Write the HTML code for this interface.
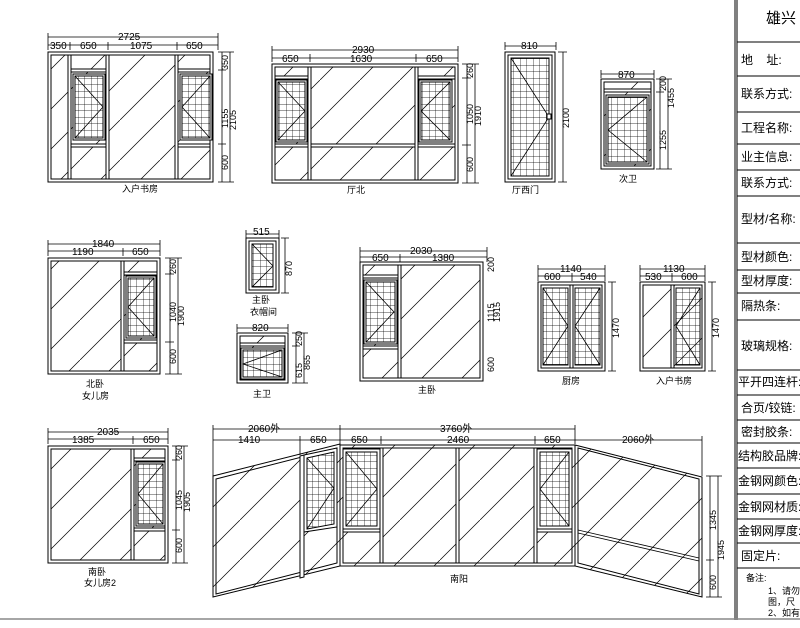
<!DOCTYPE html>
<html><head><meta charset="utf-8"><style>
html,body{margin:0;padding:0;background:#fff;width:800px;height:628px;overflow:hidden}
svg{display:block}
text{font-family:"Liberation Sans","Noto Sans CJK SC",sans-serif;fill:#000}
.f{fill:none;stroke:#000;stroke-width:1}
.w{fill:#fff;stroke:#000;stroke-width:1}
.h{fill:url(#hatch);stroke:#000;stroke-width:1}
.g{fill:url(#grid);stroke:#000;stroke-width:1}
.d{stroke:#000;stroke-width:0.8;fill:none}
.t{font-size:10px}
.c{font-size:9px}
.tb{font-size:12px}
</style></head><body>
<svg width="800" height="628" viewBox="0 0 800 628" xmlns="http://www.w3.org/2000/svg">
<defs>
<pattern id="hatch" patternUnits="userSpaceOnUse" width="40" height="40"><line x1="0" y1="40" x2="40" y2="0" stroke="#000" stroke-width="0.7"/></pattern>
<pattern id="grid" patternUnits="userSpaceOnUse" width="6.5" height="6.5"><path d="M0 0H6.5M0 0V6.5" stroke="#000" stroke-width="0.7" fill="none"/></pattern>
</defs>

<!-- 1 入户书房 -->
<rect class="f" x="48" y="52" width="165" height="130"/>
<rect class="h" x="51" y="55" width="159" height="124"/>
<rect class="w" x="68" y="55" width="3" height="124"/><rect class="w" x="106" y="55" width="3" height="124"/>
<rect class="w" x="175" y="55" width="3" height="124"/>
<rect class="w" x="71" y="69" width="35" height="3"/><rect class="w" x="71" y="144" width="35" height="3"/>
<rect class="w" x="178" y="69" width="32" height="3"/><rect class="w" x="178" y="144" width="32" height="3"/>
<rect class="w" x="73" y="74" width="32" height="66"/><rect class="g" x="75" y="76" width="28" height="62"/>
<path class="d" d="M75 76L103 107L75 138"/>
<rect class="w" x="180" y="74" width="32" height="66"/><rect class="g" x="182" y="76" width="28" height="62"/>
<path class="d" d="M210 76L182 107L210 138"/>
<path class="d" d="M48 37H218M48 45H218M48 33V50M70 42V50M108 42V50M177 42V50M218 33V50"/>
<text class="t" x="118" y="40">2725</text>
<text class="t" x="50" y="49">350</text><text class="t" x="80" y="49">650</text><text class="t" x="130" y="49">1075</text><text class="t" x="186" y="49">650</text>
<path class="d" d="M222 52V182M230 52V182M218 52H234M218 70H226M218 144H226M218 182H234"/>
<text class="c" transform="translate(228,70) rotate(-90)">350</text>
<text class="c" transform="translate(228,128) rotate(-90)">1155</text>
<text class="c" transform="translate(236,130) rotate(-90)">2105</text>
<text class="c" transform="translate(228,170) rotate(-90)">600</text>
<text class="c" x="122" y="192">入户书房</text>

<!-- 2 厅北 -->
<rect class="f" x="272" y="64" width="186" height="119"/>
<rect class="h" x="275" y="67" width="180" height="113"/>
<rect class="w" x="308" y="67" width="3" height="113"/><rect class="w" x="415" y="67" width="3" height="113"/>
<rect class="w" x="275" y="76" width="33" height="3"/><rect class="w" x="418" y="76" width="37" height="3"/>
<rect class="w" x="311" y="144" width="104" height="3"/>
<rect class="w" x="275" y="144" width="33" height="3"/><rect class="w" x="418" y="144" width="37" height="3"/>
<rect class="w" x="276" y="80" width="31" height="62"/><rect class="g" x="278" y="82" width="27" height="58"/>
<path class="d" d="M278 82L305 111L278 140"/>
<rect class="w" x="419" y="80" width="33" height="62"/><rect class="g" x="421" y="82" width="29" height="58"/>
<path class="d" d="M450 82L421 111L450 140"/>
<path class="d" d="M272 50H458M272 58H458M272 46V62M310 54V62M416 54V62M458 46V62"/>
<text class="t" x="352" y="53">2930</text>
<text class="t" x="282" y="62">650</text><text class="t" x="350" y="62">1630</text><text class="t" x="426" y="62">650</text>
<path class="d" d="M467 64V183M475 64V183M462 64H479M462 78H471M462 145H471M462 183H479"/>
<text class="c" transform="translate(473,78) rotate(-90)">260</text>
<text class="c" transform="translate(473,124) rotate(-90)">1050</text>
<text class="c" transform="translate(481,126) rotate(-90)">1910</text>
<text class="c" transform="translate(473,172) rotate(-90)">600</text>
<text class="c" x="347" y="193">厅北</text>

<!-- 3 厅西门 -->
<rect class="f" x="505" y="52" width="50" height="130"/>
<rect class="f" x="508" y="55" width="44" height="124"/>
<rect class="g" x="511" y="58" width="38" height="118"/>
<path class="d" d="M511 58L549 117L511 176"/>
<rect class="w" x="547" y="114" width="4" height="5"/>
<path class="d" d="M505 46H556M505 42V50M556 42V50M563 52V182M558 52H567M558 182H567"/>
<text class="t" x="521" y="49">810</text>
<text class="c" transform="translate(569,128) rotate(-90)">2100</text>
<text class="c" x="512" y="193">厅西门</text>

<!-- 4 次卫 -->
<rect class="f" x="601" y="79" width="53" height="90"/>
<rect class="h" x="604" y="82" width="47" height="84"/>
<rect class="w" x="604" y="89" width="47" height="3"/>
<rect class="w" x="606" y="95" width="43" height="69"/><rect class="g" x="608" y="97" width="39" height="65"/>
<path class="d" d="M647 97L608 130L647 162"/>
<path class="d" d="M601 74H654M601 70V78M654 70V78M660 79V169M668 79V169M656 79H672M656 92H664M656 169H672"/>
<text class="t" x="618" y="78">870</text>
<text class="c" transform="translate(666,91) rotate(-90)">200</text>
<text class="c" transform="translate(666,150) rotate(-90)">1255</text>
<text class="c" transform="translate(674,108) rotate(-90)">1455</text>
<text class="c" x="619" y="182">次卫</text>

<!-- 5 北卧 -->
<rect class="f" x="48" y="258" width="112" height="116"/>
<rect class="h" x="51" y="261" width="106" height="110"/>
<rect class="w" x="121" y="261" width="3" height="110"/>
<rect class="w" x="124" y="272" width="33" height="3"/><rect class="w" x="124" y="340" width="33" height="3"/>
<rect class="w" x="126" y="276" width="30" height="62"/><rect class="g" x="128" y="278" width="26" height="58"/>
<path class="d" d="M154 278L128 307L154 336"/>
<path class="d" d="M48 244H160M48 251H160M48 240V256M123 248V256M160 240V256"/>
<text class="t" x="92" y="247">1840</text>
<text class="t" x="72" y="255">1190</text><text class="t" x="132" y="255">650</text>
<path class="d" d="M170 258V374M178 258V374M165 258H182M165 274H174M165 342H174M165 374H182"/>
<text class="c" transform="translate(176,274) rotate(-90)">260</text>
<text class="c" transform="translate(176,322) rotate(-90)">1040</text>
<text class="c" transform="translate(184,326) rotate(-90)">1900</text>
<text class="c" transform="translate(176,364) rotate(-90)">600</text>
<text class="c" x="86" y="387">北卧</text><text class="c" x="82" y="399">女儿房</text>

<!-- 6 主卧衣帽间 -->
<rect class="f" x="246" y="238" width="33" height="55"/>
<rect class="f" x="249" y="241" width="27" height="49"/>
<rect class="g" x="252" y="244" width="21" height="43"/>
<path class="d" d="M252 244L273 266L252 287"/>
<path class="d" d="M246 234H279M246 230V238M279 230V238M285 238V293M281 238H289M281 293H289"/>
<text class="t" x="253" y="235">515</text>
<text class="c" transform="translate(292,276) rotate(-90)">870</text>
<text class="c" x="252" y="303">主卧</text><text class="c" x="250" y="315">衣帽间</text>

<!-- 7 主卫 -->
<rect class="f" x="237" y="333" width="51" height="50"/>
<rect class="h" x="240" y="336" width="45" height="44"/>
<rect class="w" x="240" y="343" width="45" height="3"/>
<rect class="w" x="241" y="348" width="43" height="31"/><rect class="g" x="243" y="350" width="39" height="27"/>
<path class="d" d="M282 350L243 364L282 377"/>
<path class="d" d="M237 328H288M237 324V332M288 324V332M296 333V383M304 333V383M292 333H308M292 346H300M292 383H308"/>
<text class="t" x="252" y="331">820</text>
<text class="c" transform="translate(302,346) rotate(-90)">250</text>
<text class="c" transform="translate(302,378) rotate(-90)">615</text>
<text class="c" transform="translate(310,370) rotate(-90)">865</text>
<text class="c" x="253" y="397">主卫</text>

<!-- 8 主卧 -->
<rect class="f" x="360" y="262" width="123" height="119"/>
<rect class="h" x="363" y="265" width="117" height="113"/>
<rect class="w" x="398" y="265" width="3" height="113"/>
<rect class="w" x="363" y="275" width="35" height="3"/><rect class="w" x="363" y="346" width="35" height="3"/>
<rect class="w" x="364" y="280" width="33" height="64"/><rect class="g" x="366" y="282" width="29" height="60"/>
<path class="d" d="M366 282L394 312L366 342"/>
<path class="d" d="M360 251H487M360 257H487M360 247V262M400 254V262M487 247V262"/>
<text class="t" x="410" y="254">2030</text>
<text class="t" x="372" y="261">650</text><text class="t" x="432" y="261">1380</text>
<text class="c" transform="translate(494,272) rotate(-90)">200</text>
<text class="c" transform="translate(494,322) rotate(-90)">1115</text>
<text class="c" transform="translate(500,322) rotate(-90)">1915</text>
<text class="c" transform="translate(494,372) rotate(-90)">600</text>
<text class="c" x="418" y="393">主卧</text>

<!-- 9 厨房 -->
<rect class="f" x="538" y="282" width="67" height="89"/>
<rect class="f" x="541" y="285" width="61" height="83"/>
<rect class="w" x="570" y="285" width="3" height="83"/>
<rect class="g" x="543" y="288" width="25" height="77"/><rect class="g" x="575" y="288" width="25" height="77"/>
<path class="d" d="M543 288L568 326L543 365M600 288L575 326L600 365"/>
<path class="d" d="M538 269H605M538 276H605M538 265V281M572 273V281M605 265V281M612 282V371M608 282H616M608 371H616"/>
<text class="t" x="560" y="272">1140</text>
<text class="t" x="544" y="280">600</text><text class="t" x="580" y="280">540</text>
<text class="c" transform="translate(619,338) rotate(-90)">1470</text>
<text class="c" x="562" y="384">厨房</text>

<!-- 10 入户书房 -->
<rect class="f" x="640" y="282" width="65" height="89"/>
<rect class="h" x="643" y="285" width="59" height="83"/>
<rect class="w" x="671" y="285" width="3" height="83"/>
<rect class="g" x="676" y="288" width="24" height="77"/>
<path class="d" d="M700 288L676 326L700 365"/>
<path class="d" d="M640 269H705M640 276H705M640 265V281M672 273V281M705 265V281M712 282V371M708 282H716M708 371H716"/>
<text class="t" x="663" y="272">1130</text>
<text class="t" x="645" y="280">530</text><text class="t" x="681" y="280">600</text>
<text class="c" transform="translate(719,338) rotate(-90)">1470</text>
<text class="c" x="656" y="384">入户书房</text>

<!-- 11 南卧 -->
<rect class="f" x="48" y="446" width="120" height="117"/>
<rect class="h" x="51" y="449" width="114" height="111"/>
<rect class="w" x="131" y="449" width="3" height="111"/>
<rect class="w" x="134" y="458" width="31" height="3"/><rect class="w" x="134" y="528" width="31" height="3"/>
<rect class="w" x="136" y="462" width="29" height="64"/><rect class="g" x="138" y="464" width="25" height="60"/>
<path class="d" d="M163 464L138 494L163 524"/>
<path class="d" d="M48 432H168M48 439H168M48 428V444M133 436V444M168 428V444"/>
<text class="t" x="97" y="435">2035</text>
<text class="t" x="72" y="443">1385</text><text class="t" x="143" y="443">650</text>
<path class="d" d="M176 446V563M184 446V563M172 446H188M172 460H180M172 530H180M172 563H188"/>
<text class="c" transform="translate(182,460) rotate(-90)">260</text>
<text class="c" transform="translate(182,510) rotate(-90)">1045</text>
<text class="c" transform="translate(190,512) rotate(-90)">1905</text>
<text class="c" transform="translate(182,553) rotate(-90)">600</text>
<text class="c" x="88" y="575">南卧</text><text class="c" x="84" y="586">女儿房2</text>

<!-- 12 南阳 -->
<polygon class="h" points="213,476 340,444 340,566 213,597"/>
<polygon class="f" points="216,479 337,448 337,563 216,594"/>
<polygon class="w" points="300,456 304,455 304,577 300,578"/>
<polygon class="w" points="304,455 337,448 337,527 304,532"/>
<polygon class="g" points="307,458 334,452 334,524 307,529"/>
<path class="d" d="M307 458L334 488L307 529"/>
<rect class="h" x="340" y="445" width="235" height="121"/>
<rect class="f" x="343" y="448" width="229" height="115"/>
<rect class="w" x="380" y="448" width="3" height="115"/><rect class="w" x="456" y="448" width="3" height="115"/><rect class="w" x="534" y="448" width="3" height="115"/>
<rect class="w" x="343" y="449" width="37" height="80"/><rect class="g" x="346" y="452" width="31" height="74"/>
<rect class="w" x="343" y="529" width="37" height="3"/>
<path class="d" d="M346 452L377 489L346 526"/>
<rect class="w" x="537" y="449" width="35" height="80"/><rect class="g" x="540" y="452" width="29" height="74"/>
<rect class="w" x="537" y="529" width="35" height="3"/>
<path class="d" d="M569 452L540 489L569 526"/>
<polygon class="h" points="575,445 702,477 702,597 575,566"/>
<polygon class="f" points="578,448 699,479 699,594 578,563"/>
<path class="d" d="M578 530L699 558M578 533L699 561"/>
<path class="d" d="M213 429H340M213 440H575M340 429H575M213 425V476M300 436V455M340 425V444M381 436V444M535 436V444M575 425V444M575 440H702M702 436V476"/>
<text class="t" x="248" y="432">2060外</text><text class="t" x="440" y="432">3760外</text>
<text class="t" x="238" y="443">1410</text><text class="t" x="310" y="443">650</text><text class="t" x="351" y="443">650</text>
<text class="t" x="447" y="443">2460</text><text class="t" x="544" y="443">650</text><text class="t" x="622" y="443">2060外</text>
<path class="d" d="M710 476V597M718 476V597M706 476H722M706 560H714M706 597H722"/>
<text class="c" transform="translate(716,530) rotate(-90)">1345</text>
<text class="c" transform="translate(724,560) rotate(-90)">1945</text>
<text class="c" transform="translate(716,590) rotate(-90)">600</text>
<text class="c" x="450" y="582">南阳</text>

<!-- right table -->
<path d="M735 0V620M737 0V620" stroke="#000" stroke-width="1"/>
<path d="M0 619H800" stroke="#888" stroke-width="1.5"/>
<path d="M737 42H800M737 76H800M737 112H800M737 144H800M737 170H800M737 196H800M737 243H800M737 270H800M737 293H800M737 320H800M737 370H800M737 395H800M737 420H800M737 443H800M737 468H800M737 494H800M737 519H800M737 543H800M737 568H800" stroke="#000" stroke-width="1"/>
<text x="766" y="23" style="font-size:15px">雄兴</text>
<g class="tb">
<text x="741" y="64">地&#160;&#160;&#160;&#160;址:</text>
<text x="741" y="98">联系方式:</text>
<text x="741" y="132">工程名称:</text>
<text x="741" y="161">业主信息:</text>
<text x="741" y="187">联系方式:</text>
<text x="741" y="223">型材/名称:</text>
<text x="741" y="261">型材颜色:</text>
<text x="741" y="285">型材厚度:</text>
<text x="741" y="310">隔热条:</text>
<text x="741" y="350">玻璃规格:</text>
<text x="738" y="386">平开四连杆:</text>
<text x="741" y="412">合页/铰链:</text>
<text x="741" y="436">密封胶条:</text>
<text x="738" y="460">结构胶品牌:</text>
<text x="738" y="485">金钢网颜色:</text>
<text x="738" y="511">金钢网材质:</text>
<text x="738" y="535">金钢网厚度:</text>
<text x="741" y="560">固定片:</text>
</g>
<text x="746" y="581" style="font-size:9px">备注:</text>
<text x="768" y="594" style="font-size:9px">1、请勿</text>
<text x="768" y="605" style="font-size:9px">图，尺</text>
<text x="768" y="616" style="font-size:9px">2、如有</text>
</svg>
</body></html>
